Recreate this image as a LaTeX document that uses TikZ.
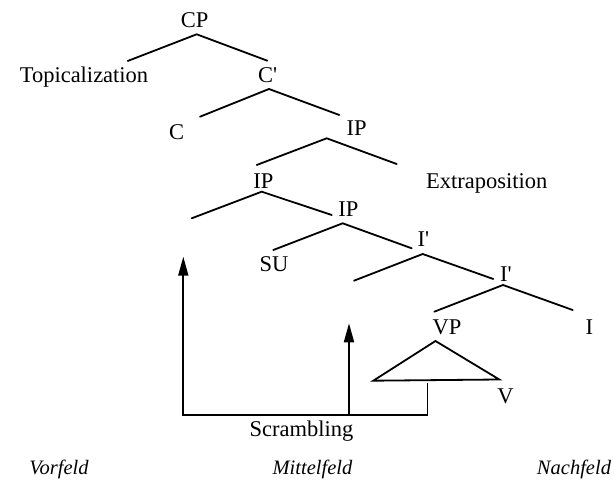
\documentclass[tikz,border=0pt]{standalone}
\usepackage{fontspec}
\setmainfont{Liberation Serif}
\usetikzlibrary{arrows.meta}
\begin{document}
\begin{tikzpicture}[x=1pt,y=-1pt,
  lbl/.style={inner sep=0pt, anchor=base, font=\fontsize{22.5}{27}\selectfont},
  fld/.style={inner sep=0pt, anchor=base, font=\fontsize{20.5}{24}\selectfont\itshape},
  br/.style={line width=1.8pt, line cap=round, line join=miter},
  arr/.style={line width=1.8pt, -{Triangle[length=19pt,width=10pt]}}]
\useasboundingbox (0,0) rectangle (614,481);
% labels
\node[lbl] (cp)   at (194.7,28)  {CP};
\node[lbl] (top)  at (84,83)     {Topicalization};
\node[lbl] (cb)   at (267.7,83)  {C\textquotesingle};
\node[lbl] (c)    at (176.7,140) {C};
\node[lbl] (ip1)  at (356.7,136) {IP};
\node[lbl] (ip2)  at (263.3,189) {IP};
\node[lbl] (ext)  at (486.7,189) {Extraposition};
\node[lbl] (ip3)  at (348.3,217) {IP};
\node[lbl] (ib1)  at (423.5,246.5) {I\textquotesingle};
\node[lbl] (su)   at (274,271.5) {SU};
\node[lbl] (ib2)  at (506,281.5) {I\textquotesingle};
\node[lbl] (vp)   at (447,335)   {VP};
\node[lbl] (i)    at (589.3,335) {I};
\node[lbl] (v)    at (505.5,403) {V};
\node[lbl] (scr)  at (301.5,437) {Scrambling};
\node[fld] (vor)  at (59,475)    {Vorfeld};
\node[fld] (mit)  at (312.5,475) {Mittelfeld};
\node[fld] (nach) at (574,475)   {Nachfeld};
% branch points
\coordinate (a1) at (196.7,34.3); \coordinate (l1) at (127.7,61);  \coordinate (r1) at (267.3,60.7);
\coordinate (a2) at (269,89);     \coordinate (l2) at (200,116.7); \coordinate (r2) at (339.3,115);
\coordinate (a3) at (326.7,138.3);\coordinate (l3) at (256.7,165); \coordinate (r3) at (396.7,164);
\coordinate (a4) at (261.7,191.7);\coordinate (l4) at (191.7,218.3);\coordinate (r4) at (331.7,215);
\coordinate (a5) at (342.7,223.3);\coordinate (l5) at (273.3,250); \coordinate (r5) at (411.7,248.3);
\coordinate (a6) at (422.7,254);  \coordinate (l6) at (354,280.7); \coordinate (r6) at (493.3,279);
\coordinate (a7) at (503,285);    \coordinate (l7) at (434.3,311.7);\coordinate (r7) at (572.7,310);
\coordinate (ta) at (435.5,341);  \coordinate (tl) at (373.3,380.7);\coordinate (tr) at (499.3,379.5);
\foreach \n in {1,...,7}{\draw[br] (l\n) -- (a\n) -- (r\n);}
\draw[br] (ta) -- (tl) -- (tr) -- cycle;
% scrambling arrows
\coordinate (s0) at (427.5,383.3);
\coordinate (s1) at (427.5,415);
\coordinate (s2) at (183.3,415);
\coordinate (s3) at (183.3,256.7);
\coordinate (m0) at (349,415);
\coordinate (m1) at (349,323.3);
\draw[arr] (s0) -- (s1) -- (s2) -- (s3);
\draw[arr] (m0) -- (m1);
\end{tikzpicture}
\end{document}
